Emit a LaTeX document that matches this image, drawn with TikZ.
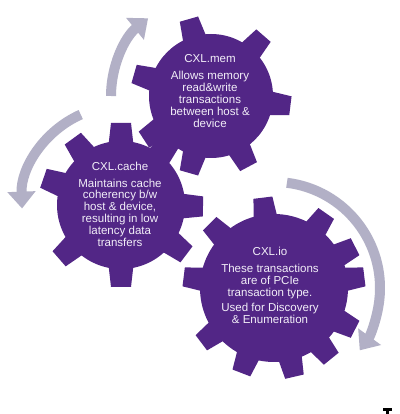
\documentclass[tikz,border=0pt]{standalone}
\usepackage{fontspec}
\setmainfont{Liberation Sans}
\usetikzlibrary{arrows.meta}
\definecolor{gearpurple}{RGB}{82,38,134}
\definecolor{arrowgray}{RGB}{178,176,198}
\definecolor{textwhite}{RGB}{242,238,248}
\newcommand{\drawgear}[7]{%
  \fill[gearpurple] (#1,#2) circle[radius=#3];
  \foreach \a in {#7}{%
    \fill[gearpurple, shift={(#1,#2)}, rotate=\a] (#3-4,-#5) -- (#4,-#6) -- (#4,#6) -- (#3-4,#5) -- cycle;
  }%
}
\tikzset{
  gtext/.style={text=textwhite, align=center, inner sep=0pt,
    font=\fontsize{8.2}{8.4}\selectfont},
  cyclearrow/.style={draw=arrowgray, line width=0.25cm,
    -{Triangle[length=0.42cm, width=0.68cm]}}
}
\begin{document}
\begin{tikzpicture}[x=0.025cm, y=0.025cm]
\fill[white] (0,0) rectangle (400,414);
\useasboundingbox (0,0) rectangle (400,414);
% gear centres
\coordinate (cmem) at (211,318);
\coordinate (ccache) at (121,209);
\coordinate (cio) at (274,126);
% arrows
\draw[cyclearrow] (cmem) ++(180:100) arc[start angle=180, end angle=129, radius=100];
\draw[cyclearrow] (ccache) ++(114:99) arc[start angle=114, end angle=182, radius=99];
\draw[cyclearrow] (cio) ++(83:106) arc[start angle=83, end angle=-36, radius=106];
% gears
\drawgear{211}{318}{62}{80}{12}{9.5}{106,49,-7,-62,-106,-147,164}
\drawgear{121}{209}{64}{82}{12.5}{10}{90,52,-1,-37,-90,-139,161,126}
\drawgear{274}{126}{74}{91}{12}{9.5}{97,55,27,7,-27,-51,-77,-111,-143,173,135}
% texts
\node[gtext] (mem) at (210,323) {CXL.mem\\[3.7pt]Allows memory\\read\&write\\transactions\\between host \&\\device};
\node[gtext] (cache) at (120,210) {CXL.cache\\[3.7pt]Maintains cache\\coherency b/w\\host \& device,\\resulting in low\\latency data\\transfers};
\node[gtext] (io) at (270,128.5) {CXL.io\\[3.7pt]These transactions\\are of PCIe\\transaction type.\\[2.3pt]Used for Discovery\\\& Enumeration};
% small mark at bottom right
\fill[black] (383,3) rectangle (392,6);
\fill[black] (386,0) rectangle (389,6);
\end{tikzpicture}
\end{document}
